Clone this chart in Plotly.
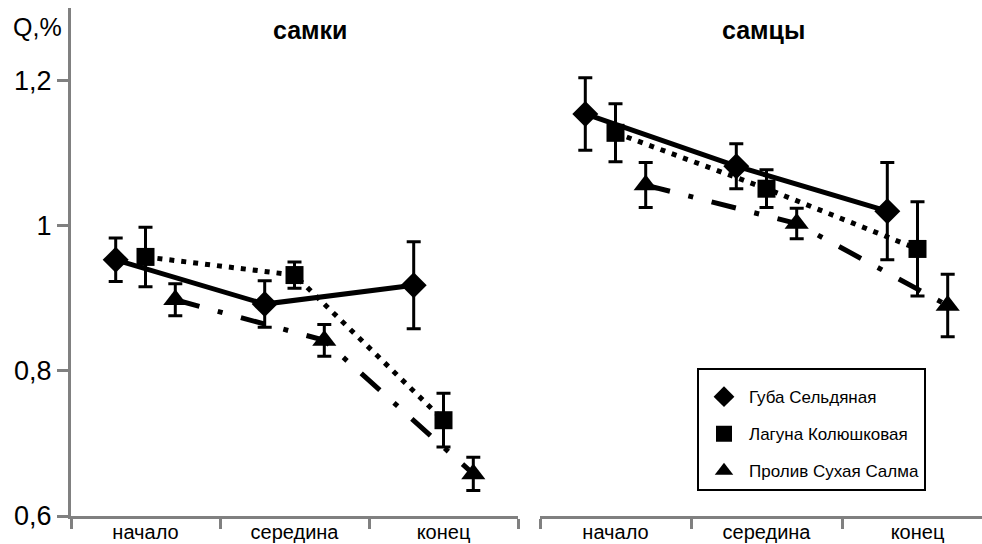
import plotly.graph_objects as go

# ---------------- data ----------------
categories = ["начало", "середина", "конец"]
series_names = ["Губа Сельдяная", "Лагуна Колюшковая", "Пролив Сухая Салма"]

# females (самки)
guba_f = [0.953, 0.892, 0.918]
guba_f_err = [0.030, 0.032, 0.060]
laguna_f = [0.957, 0.932, 0.732]
laguna_f_err = [0.041, 0.018, 0.037]
proliv_f = [0.898, 0.842, 0.658]
proliv_f_err = [0.022, 0.022, 0.023]

# males (самцы)
guba_m = [1.154, 1.082, 1.020]
guba_m_err = [0.050, 0.031, 0.067]
laguna_m = [1.128, 1.051, 0.968]
laguna_m_err = [0.040, 0.026, 0.065]
proliv_m = [1.056, 1.003, 0.890]
proliv_m_err = [0.031, 0.021, 0.043]

y_tickvals = [0.6, 0.8, 1.0, 1.2]
y_ticktext = ["0,6", "0,8", "1", "1,2"]

# ---------------- style ----------------
W, H = 982, 544
FONT = "Arial, Liberation Sans, sans-serif"
GRAY = "#808080"
offsets = [-0.2, 0.0, 0.2]
symbols = ["diamond", "square", "triangle-up"]
msizes = [20, 18, 21]
dashes = ["solid", "5px,7px", "25px,19px,5px,19px"]
lwidths = [5, 5, 5]

fig = go.Figure()

panels = [
    ("x", [guba_f, laguna_f, proliv_f], [guba_f_err, laguna_f_err, proliv_f_err], True),
    ("x2", [guba_m, laguna_m, proliv_m], [guba_m_err, laguna_m_err, proliv_m_err], False),
]

for xa, vals, errs, show in panels:
    for i in range(3):
        xs = [k + offsets[i] for k in range(len(categories))]
        fig.add_trace(go.Scatter(
            x=xs, y=vals[i], mode="lines", xaxis=xa, yaxis="y",
            line=dict(color="black", width=lwidths[i], dash=dashes[i]),
            showlegend=False, hoverinfo="skip",
        ))
    for i in range(3):
        xs = [k + offsets[i] for k in range(len(categories))]
        fig.add_trace(go.Scatter(
            x=xs, y=vals[i], mode="markers", xaxis=xa, yaxis="y",
            name=series_names[i], legendgroup=series_names[i], showlegend=show,
            marker=dict(symbol=symbols[i], size=msizes[i], color="black"),
            error_y=dict(type="data", array=errs[i], visible=True,
                         color="black", thickness=3, width=7),
        ))

l_px, r1_px = 71, 518
r2_start = 540
cat_w2 = 151.0
x2_max = (W - r2_start) / cat_w2 - 0.5

xaxis_common = dict(
    showline=True, linecolor=GRAY, linewidth=3, mirror=False,
    showgrid=False, zeroline=False,
    tickmode="array", tickvals=[0, 1, 2], ticktext=categories,
    ticks="", ticklabelstandoff=-4,
    tickfont=dict(family=FONT, size=20, color="black"),
    minor=dict(tickmode="array", tickvals=[-0.5, 0.5, 1.5, 2.5],
               ticks="outside", ticklen=10, tickwidth=3, tickcolor=GRAY,
               showgrid=False),
    fixedrange=True,
)

fig.update_layout(
    width=W, height=H,
    margin=dict(l=0, r=0, t=8, b=28, autoexpand=False),
    paper_bgcolor="white", plot_bgcolor="white",
    showlegend=True,
    xaxis=dict(domain=[l_px / W, r1_px / W], range=[-0.5, 2.5], anchor="y", **xaxis_common),
    xaxis2=dict(domain=[r2_start / W, 1.0], range=[-0.5, x2_max], anchor="y", **xaxis_common),
    yaxis=dict(
        range=[0.6, 1.3], anchor="x",
        showline=True, linecolor=GRAY, linewidth=3,
        showgrid=False, zeroline=False,
        tickmode="array", tickvals=y_tickvals, ticktext=y_ticktext,
        ticks="outside", ticklen=11, tickwidth=3, tickcolor=GRAY,
        tickfont=dict(family=FONT, size=27, color="black"),
        fixedrange=True,
    ),
    legend=dict(
        x=697 / W, y=(516 - 368) / 508, xanchor="left", yanchor="top",
        bordercolor="black", borderwidth=2, bgcolor="white",
        font=dict(family=FONT, size=17, color="black"),
        title=dict(text=" ", font=dict(size=7)),
        traceorder="grouped", tracegroupgap=12, itemwidth=40,
    ),
    annotations=[
        dict(text="самки", x=310 / W, y=30, xref="paper", yref="paper",
             showarrow=False, font=dict(family=FONT, size=25, color="black", weight="bold"),
             xanchor="center", yanchor="middle"),
        dict(text="самцы", x=763 / W, y=30, xref="paper", yref="paper",
             showarrow=False, font=dict(family=FONT, size=25, color="black", weight="bold"),
             xanchor="center", yanchor="middle"),
        dict(text="Q,%", x=37 / W, y=27, xref="paper", yref="paper",
             showarrow=False, font=dict(family=FONT, size=25, color="black"),
             xanchor="center", yanchor="middle"),
    ],
)

# convert pixel y positions of annotations to paper coords
plot_h = H - 8 - 28
for ann in fig.layout.annotations:
    ann.y = (H - 28 - ann.y) / plot_h

fig.write_html("out.html")
